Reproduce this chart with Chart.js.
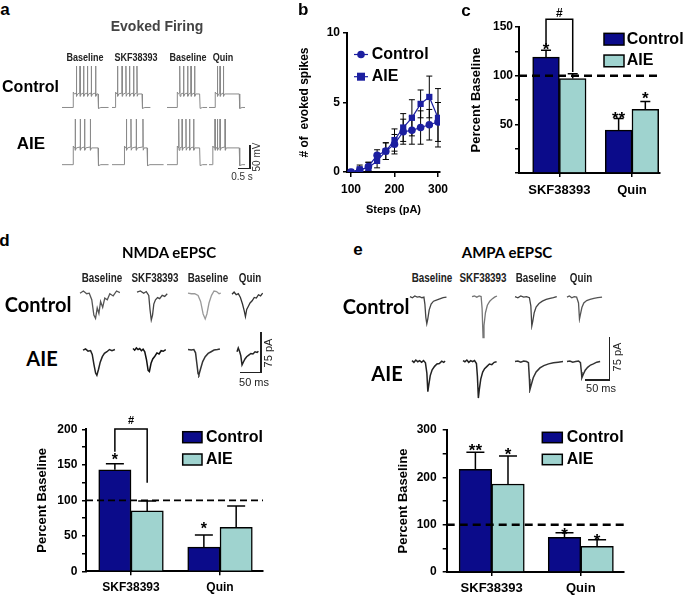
<!DOCTYPE html>
<html>
<head>
<meta charset="utf-8">
<script src="https://cdn.jsdelivr.net/npm/chart.js@4.4.1/dist/chart.umd.min.js"></script>
<style>
html, body { margin: 0; padding: 0; background: #fff; }
#page { position: relative; width: 685px; height: 596px; overflow: hidden; font-family: "Liberation Sans", Arial, sans-serif; }
#page canvas { position: absolute; }
.t { position: absolute; transform: translate(-50%, -50%); line-height: 1; white-space: nowrap; }
.nar { transform: translate(-50%, -50%) scaleX(.82); }
.rot { transform: translate(-50%, -50%) rotate(-90deg); }
.cal { font-family: Lato, "Open Sans", sans-serif; }
.sb { position: absolute; background: #222; }
</style>
</head>
<body>
<div id="page"></div>
<script>
// ── DATA ──────────────────────────────────────────────────────────────────────
// b: evoked spikes vs current step
const steps         = [100, 120, 140, 160, 180, 200, 220, 240, 260, 280, 300];
const stepTicks     = [100, 200, 300];
const ctrlSpikes    = [0, 0.1, 0.4, 1.2, 1.5, 2.0, 2.9, 3.0, 3.2, 3.4, 3.6];
const ctrlSpikesSem = [0, 0.2, 0.3, 0.4, 0.6, 0.7, 0.9, 1.0, 1.2, 1.1, 1.4];
const aieSpikes     = [0, 0.2, 0.3, 0.8, 1.5, 2.3, 3.2, 3.9, 4.9, 5.4, 3.9];
const aieSpikesSem  = [0, 0.3, 0.4, 0.5, 0.6, 0.8, 1.0, 1.3, 1.0, 1.5, 2.1];

// c, d, e: percent of baseline
const groups       = ['SKF38393', 'Quin'];
const firingCtrl   = [119, 44],  firingCtrlSem = [7, 12];
const firingAie    = [97, 65.5], firingAieSem  = [5, 8];
const nmdaCtrl     = [143, 34],  nmdaCtrlSem   = [8.5, 17];
const nmdaAie      = [85, 62],   nmdaAieSem    = [14, 30];
const ampaCtrl     = [217, 73],  ampaCtrlSem   = [36, 10];
const ampaAie      = [186, 54],  ampaAieSem    = [59, 14];

// a: firing sweeps, [step on, step off, sweep end] in s, spike times in s, levels in mV [rest, plateau, peak]
const traceCols    = ['Baseline', 'SKF38393', 'Baseline', 'Quin'];
const ctrlSweeps   = [[0.46, 1.5, 1.94], [0.14, 1.25, 1.6], [0.42, 1.36, 1.67], [0.25, 1.26, 1.5]];
const aieSweeps    = [[0.46, 1.5, 1.94], [0.51, 1.46, 2.15], [0.42, 1.36, 1.67], [0.15, 1.26, 1.5]];
const ctrlSpikeT   = [[0.6, 0.75, 0.9, 1.06, 1.22, 1.4], [0.23, 0.42, 0.58, 0.73, 0.9, 1.04], [0.53, 0.69, 0.86, 1.0, 1.15], [0.35, 0.46, 0.6]];
const aieSpikeT    = [[0.55, 0.76, 0.94, 1.18], [0.6, 0.79, 1.01, 1.29], [0.49, 0.63, 0.79, 0.94, 1.11], [0.25, 0.35, 0.46, 0.67]];
const ctrlLevels   = [-70, -41, 19];
const aieLevels    = [-70, -34, 28];

// d: NMDA eEPSC sweeps, [ms, pA]
const nmdaCtrlTraces = [
  [[0,0],[8,4],[16,-1],[22,0],[28,-12],[33,-40],[37,-46],[41,-27],[45,-37],[49,-15],[54,-26],[59,-9],[65,-12],[71,-1],[79,-5],[87,4],[95,1]],
  [[0,2],[8,4],[16,0],[22,3],[28,-4],[31,-30],[34,-49],[37,-40],[40,-20],[44,-12],[49,-8],[54,-10],[60,-4],[66,-6],[72,-1]],
  [[0,0],[8,-1],[16,-1],[24,-4],[30,-15],[36,-38],[41,-47],[45,-38],[50,-18],[56,-4],[62,4],[68,3],[74,-1],[78,0]],
  [[0,-2],[5,2],[10,-3],[15,-1],[20,-8],[25,-20],[29,-32],[32,-43],[35,-30],[39,-24],[43,-18],[48,-14],[53,-8],[58,-9],[63,-3],[68,-5],[73,0]]
];
const nmdaAieTraces = [
  [[0,0],[6,2],[12,-2],[18,-1],[22,-8],[26,-26],[30,-42],[33,-46],[37,-35],[41,-22],[46,-12],[51,-6],[57,-3],[63,1],[69,-1],[76,1]],
  [[0,2],[4,-1],[8,3],[12,0],[16,2],[20,-2],[24,1],[28,-4],[32,-18],[36,-38],[39,-40],[43,-25],[47,-17],[52,-12],[57,-6],[62,-8],[67,-2],[72,-3],[78,0]],
  [[0,0],[8,-1],[14,0],[18,-6],[21,-25],[24,-44],[26,-46],[30,-35],[35,-22],[41,-13],[48,-7],[55,-4],[62,-1],[70,0],[76,1]],
  [[0,-3],[3,4],[6,-2],[9,-10],[12,-27],[15,-22],[19,-16],[23,-12],[28,-9],[33,-6],[38,-7],[43,-3],[48,-4],[51,-2]]
];

// e: AMPA eEPSC sweeps, [ms, pA]
const ampaCtrlTraces = [
  [[0,1],[5,-1],[10,2],[15,0],[20,1],[25,-1],[29,0],[31,-12],[33,-35],[35,-46],[37,-38],[40,-22],[44,-12],[49,-7],[55,-5],[62,-3],[69,-1],[76,0]],
  [[0,0],[5,1],[10,-1],[15,1],[19,0],[21,-20],[23,-71],[25,-50],[28,-28],[32,-15],[37,-8],[42,-4],[47,-1],[52,1]],
  [[0,1],[6,-1],[12,2],[18,0],[24,1],[30,-1],[33,-15],[35,-50],[37,-42],[40,-27],[44,-17],[50,-11],[57,-7],[65,-4],[73,-2],[80,-1],[87,1]],
  [[0,0],[5,2],[10,-1],[15,1],[20,0],[24,-10],[26,-38],[28,-30],[31,-18],[35,-10],[41,-6],[48,-4],[56,-2],[64,-1],[73,0]]
];
const ampaAieTraces = [
  [[0,2],[4,-1],[8,3],[12,0],[16,2],[20,-1],[24,2],[28,-2],[31,-20],[33,-52],[35,-40],[38,-24],[42,-14],[47,-8],[52,-4],[57,-3],[62,1],[66,-1],[69,1]],
  [[0,2],[4,0],[8,3],[12,-1],[16,2],[20,0],[24,2],[28,-3],[30,-25],[32,-63],[34,-48],[37,-30],[41,-18],[45,-12],[50,-8],[55,-4],[60,-5],[65,-1],[70,0]],
  [[0,0],[6,1],[12,-1],[18,1],[24,0],[28,-2],[30,-30],[31,-49],[34,-40],[38,-28],[44,-18],[52,-11],[60,-7],[70,-4],[80,-2],[90,-1],[100,0]],
  [[0,0],[6,1],[12,-1],[18,0],[24,1],[28,-2],[30,-18],[31,-28],[34,-22],[38,-15],[43,-10],[49,-6],[55,-4],[62,-1],[69,0]]
];

// ── STYLE / LAYOUT ────────────────────────────────────────────────────────────
const NAVY = '#0b0b8a', TEAL = '#9fd3cf', BLUE = '#1c1fa0';
Chart.defaults.font.family = '"Liberation Sans", Arial, sans-serif';
Chart.defaults.color = '#000';
const page = document.getElementById('page');

function makeCanvas(left, top, w, h) {
  const cv = document.createElement('canvas');
  cv.width = Math.round(w); cv.height = Math.round(h);
  cv.style.left = left + 'px'; cv.style.top = top + 'px';
  cv.style.width = Math.round(w) + 'px'; cv.style.height = Math.round(h) + 'px';
  page.appendChild(cv);
  return cv;
}

function txt(s, x, y, size, cls = '', weight = 'bold', color = '#000') {
  const d = document.createElement('div');
  d.className = 't ' + cls;
  d.textContent = s;
  d.style.cssText = `left:${x}px;top:${y}px;font-size:${size}px;font-weight:${weight};color:${color}`;
  page.appendChild(d);
}

function scaleBar(x, y1, y2, x1) {
  const v = document.createElement('div');
  v.className = 'sb';
  v.style.cssText = `left:${x - 0.75}px;top:${y1}px;width:1.5px;height:${y2 - y1}px`;
  const h = document.createElement('div');
  h.className = 'sb';
  h.style.cssText = `left:${x1}px;top:${y2 - 0.75}px;width:${x - x1 + 0.75}px;height:1.5px`;
  page.append(v, h);
}

// ── PLUGINS ───────────────────────────────────────────────────────────────────
const barExtras = {
  id: 'barExtras',
  afterDatasetsDraw(chart, args, o) {
    const { ctx, chartArea: ca, scales: { y } } = chart;
    const bar = (di, i) => chart.getDatasetMeta(di).data[i];
    const capY = (di, i) => { const ds = chart.data.datasets[di]; return y.getPixelForValue(ds.data[i].y + ds.sem[i]); };
    ctx.save();
    ctx.strokeStyle = '#000'; ctx.fillStyle = '#000';
    // SEM (upper only)
    ctx.lineWidth = 1.5;
    chart.data.datasets.forEach((ds, di) => ds.data.forEach((p, i) => {
      const b = bar(di, i), yt = capY(di, i);
      ctx.beginPath();
      ctx.moveTo(b.x, b.y); ctx.lineTo(b.x, yt);
      ctx.moveTo(b.x - o.cap / 2, yt); ctx.lineTo(b.x + o.cap / 2, yt);
      ctx.stroke();
    }));
    // 100 % line
    const yr = y.getPixelForValue(100);
    ctx.lineWidth = o.refWidth; ctx.setLineDash(o.refDash);
    ctx.beginPath(); ctx.moveTo(ca.left, yr); ctx.lineTo(ca.right, yr); ctx.stroke();
    ctx.setLineDash([]);
    // significance marks
    ctx.font = `bold ${o.starSize}px "Liberation Sans", Arial`;
    ctx.textAlign = 'center'; ctx.textBaseline = 'alphabetic';
    o.stars.forEach(s => ctx.fillText(s.text, bar(s.ds, s.i).x, capY(s.ds, s.i) + s.dy));
    const bk = o.bracket;
    if (bk) {
      const x1 = bar(0, bk.i).x, x2 = bar(1, bk.i).x, yt = y.getPixelForValue(bk.top);
      ctx.lineWidth = 1.5;
      ctx.beginPath();
      ctx.moveTo(x1, y.getPixelForValue(bk.left)); ctx.lineTo(x1, yt);
      ctx.lineTo(x2, yt); ctx.lineTo(x2, y.getPixelForValue(bk.right));
      ctx.stroke();
      ctx.font = `bold ${bk.size}px "Liberation Sans", Arial`;
      ctx.textBaseline = 'middle';
      ctx.fillText(bk.text, (x1 + x2) / 2, yt - bk.gap);
    }
    ctx.restore();
  }
};

const lineErrors = {
  id: 'lineErrors',
  beforeDatasetsDraw(chart, args, o) {
    const { ctx, scales: { y } } = chart;
    ctx.save();
    ctx.strokeStyle = '#000'; ctx.lineWidth = 1;
    chart.data.datasets.forEach((ds, di) => chart.getDatasetMeta(di).data.forEach((pt, i) => {
      const e = ds.sem[i];
      if (!e) return;
      const v = ds.data[i].y, y1 = y.getPixelForValue(v + e), y2 = Math.min(y.getPixelForValue(v - e), y.bottom);
      ctx.beginPath();
      ctx.moveTo(pt.x, y1); ctx.lineTo(pt.x, y2);
      ctx.moveTo(pt.x - o.cap / 2, y1); ctx.lineTo(pt.x + o.cap / 2, y1);
      if (v - e > 0) { ctx.moveTo(pt.x - o.cap / 2, y2); ctx.lineTo(pt.x + o.cap / 2, y2); }
      ctx.stroke();
    }));
    ctx.restore();
  }
};

const keyLegend = {
  id: 'keyLegend',
  afterDraw(chart, args, o) {
    if (!o || o.x == null) return;
    const ctx = chart.ctx;
    ctx.save();
    ctx.font = `bold ${o.size}px "Liberation Sans", Arial`;
    ctx.textAlign = 'left'; ctx.textBaseline = 'middle';
    chart.data.datasets.forEach((ds, i) => {
      const yc = o.y + i * o.dy;
      if (o.kind === 'marker') {
        ctx.strokeStyle = ds.borderColor; ctx.fillStyle = ds.backgroundColor; ctx.lineWidth = 1.2;
        ctx.beginPath(); ctx.moveTo(o.x - o.w / 2, yc); ctx.lineTo(o.x + o.w / 2, yc); ctx.stroke();
        if (ds.pointStyle === 'rect') ctx.fillRect(o.x - 4, yc - 4, 8, 8);
        else { ctx.beginPath(); ctx.arc(o.x, yc, 3.8, 0, Math.PI * 2); ctx.fill(); }
      } else {
        ctx.fillStyle = ds.backgroundColor;
        ctx.fillRect(o.x, yc - o.h / 2, o.w, o.h);
        ctx.strokeStyle = '#000'; ctx.lineWidth = 1.5;
        ctx.strokeRect(o.x, yc - o.h / 2, o.w, o.h);
      }
      ctx.fillStyle = '#000';
      ctx.fillText(ds.label, o.textX, yc);
    });
    ctx.restore();
  }
};

// ── TRACES ────────────────────────────────────────────────────────────────────
function firingPts(sweep, spikes, lv) {
  const [on, off, end] = sweep, [rest, plat, peak] = lv;
  const p = [[0, rest], [on, rest], [on + 0.01, plat + 4], [on + 0.06, plat]];
  spikes.forEach(t => p.push([t - 0.006, plat + 2], [t, peak], [t + 0.012, plat - 5], [t + 0.05, plat]));
  p.push([off, plat], [off + 0.02, rest - 2], [off + 0.12, rest], [end, rest]);
  return p;
}

function trace(x0, yBase, pts, sx, sy, color, lw, base = 0) {
  const m = 3;
  const tMax = Math.max(...pts.map(p => p[0]));
  const vMax = Math.max(...pts.map(p => p[1])), vMin = Math.min(...pts.map(p => p[1]));
  const w = Math.ceil(tMax * sx + 2 * m), h = Math.ceil((vMax - vMin) * sy + 2 * m);
  const cv = makeCanvas(x0 - m, yBase - (vMax - base) * sy - m, w, h);
  const xMin = -m / sx, yMax = vMax + m / sy;
  new Chart(cv, {
    type: 'line',
    data: { datasets: [{ data: pts.map(([x, y]) => ({ x, y })), borderColor: color, borderWidth: lw, pointRadius: 0, tension: 0 }] },
    options: {
      responsive: false, animation: false, events: [],
      layout: { padding: 0 },
      plugins: { legend: { display: false }, tooltip: { enabled: false } },
      scales: {
        x: { type: 'linear', display: false, min: xMin, max: xMin + w / sx },
        y: { display: false, min: yMax - h / sy, max: yMax }
      }
    }
  });
}

// a: evoked firing
const firingX0 = [61.7, 111.7, 166.7, 209];
ctrlSweeps.forEach((s, i) => trace(firingX0[i], 107.7, firingPts(s, ctrlSpikeT[i], ctrlLevels), 24, 0.466, '#8a8a8a', 1, ctrlLevels[0]));
aieSweeps.forEach((s, i) => trace(firingX0[i], 165, firingPts(s, aieSpikeT[i], aieLevels), 24, 0.466, '#8a8a8a', 1, aieLevels[0]));

// d: NMDA
const nmdaX0 = [[80, 136.7, 188, 231.7], [83, 132.7, 188, 236.7]];
const nmdaCol = [['#555', '#444', '#999', '#333'], ['#222', '#111', '#333', '#222']];
nmdaCtrlTraces.forEach((p, i) => trace(nmdaX0[0][i], 293.3, p, 0.42, 0.547, nmdaCol[0][i], 1.3));
nmdaAieTraces.forEach((p, i) => trace(nmdaX0[1][i], 350, p, 0.42, 0.547, nmdaCol[1][i], 1.5));

// e: AMPA
const ampaX0 = [[410, 471.7, 515, 566.7], [411.7, 463, 515, 566.7]];
const ampaCol = [['#444', '#777', '#444', '#555'], ['#222', '#222', '#333', '#333']];
ampaCtrlTraces.forEach((p, i) => trace(ampaX0[0][i], 296.7, p, 0.48, 0.577, ampaCol[0][i], 1.3));
ampaAieTraces.forEach((p, i) => trace(ampaX0[1][i], 361.7, p, 0.48, 0.577, ampaCol[1][i], 1.5));

// ── b: LINE CHART ─────────────────────────────────────────────────────────────
const axisGrid = { drawOnChartArea: false, drawTicks: true, tickLength: 4, color: '#000', lineWidth: 1.5, offset: false };
const axisBorder = { display: true, color: '#000', width: 2 };

new Chart(makeCanvas(290, 0, 165, 222), {
  type: 'line',
  data: { datasets: [
    { label: 'Control', data: steps.map((s, i) => ({ x: s, y: ctrlSpikes[i] })), sem: ctrlSpikesSem,
      borderColor: BLUE, backgroundColor: BLUE, borderWidth: 1.2, pointStyle: 'circle', pointRadius: 3.8, pointBorderWidth: 0 },
    { label: 'AIE', data: steps.map((s, i) => ({ x: s, y: aieSpikes[i] })), sem: aieSpikesSem,
      borderColor: BLUE, backgroundColor: BLUE, borderWidth: 1.2, pointStyle: 'rect', pointRadius: 4.4, pointBorderWidth: 0 }
  ] },
  options: {
    responsive: false, animation: false, events: [],
    layout: { padding: { top: 33, right: 15, left: 0, bottom: 0 } },
    plugins: {
      legend: { display: false }, tooltip: { enabled: false },
      lineErrors: { cap: 6 },
      keyLegend: { kind: 'marker', x: 71, y: 54.5, dy: 22.2, w: 14, textX: 81.7, size: 16 }
    },
    scales: {
      x: { type: 'linear', min: 90.8, max: 304.6,
           afterBuildTicks: s => { s.ticks = stepTicks.map(v => ({ value: v })); },
           afterFit: s => { s.height = 50; },
           ticks: { font: { size: 12, weight: 'bold' }, padding: 5.8, maxRotation: 0, autoSkip: false },
           grid: { ...axisGrid, tickLength: 5 }, border: axisBorder,
           title: { display: true, text: 'Steps (pA)', font: { size: 11, weight: 'bold' }, padding: { top: 0, bottom: 5.4 } } },
      y: { min: 0, max: 10,
           afterFit: s => { s.width = 57; },
           ticks: { stepSize: 5, font: { size: 12, weight: 'bold' }, padding: 3 },
           grid: axisGrid, border: axisBorder,
           title: { display: true, text: '# of  evoked spikes', font: { size: 12, weight: 'bold' }, padding: { top: 7.8, bottom: 0 } } }
    }
  },
  plugins: [lineErrors, keyLegend]
});

// ── c, d, e: BAR CHARTS ───────────────────────────────────────────────────────
function barChart(o, ctrl, ctrlSem, aie, aieSem) {
  const [l, t, w, h] = o.box;
  return new Chart(makeCanvas(l, t, w, h), {
    type: 'bar',
    data: { datasets: [
      { label: 'Control', data: ctrl.map((v, i) => ({ x: i, y: v })), sem: ctrlSem,
        backgroundColor: NAVY, borderColor: '#000', borderWidth: 1.5, barThickness: o.bar },
      { label: 'AIE', data: aie.map((v, i) => ({ x: i, y: v })), sem: aieSem,
        backgroundColor: TEAL, borderColor: '#000', borderWidth: 1.5, barThickness: o.bar }
    ] },
    options: {
      responsive: false, animation: false, events: [],
      layout: { padding: o.pad },
      plugins: { legend: { display: false }, tooltip: { enabled: false }, barExtras: o.extras, keyLegend: o.legend },
      scales: {
        x: { type: 'linear', min: o.xMin, max: o.xMax, offset: false,
             afterBuildTicks: s => { s.ticks = groups.map((g, i) => ({ value: i })); },
             afterFit: s => { s.height = o.xH; },
             ticks: { callback: v => groups[v], font: { size: o.catSize, weight: 'bold' }, padding: o.xPad, maxRotation: 0, autoSkip: false },
             grid: axisGrid, border: axisBorder },
        y: { min: 0, max: o.yMax,
             afterFit: s => { s.width = o.yW; },
             ticks: { stepSize: o.minor, autoSkip: false, font: { size: 12, weight: 'bold' }, padding: o.yPad,
                      callback: v => (v % o.major === 0 && (v > 0 || o.zero)) ? v : '' },
             grid: axisGrid, border: axisBorder,
             title: { display: true, text: 'Percent Baseline', font: { size: 13, weight: 'bold' }, padding: { top: o.titlePad, bottom: 0 } } }
      }
    },
    plugins: [barExtras, keyLegend]
  });
}

barChart({
  box: [460, 0, 225, 200], pad: { top: 27, right: 25, left: 0, bottom: 0 },
  xMin: -0.556, xMax: 1.386, xH: 27, yW: 59, yMax: 150, minor: 25, major: 50, zero: false,
  bar: 26.7, xPad: 5.2, yPad: 2, catSize: 13, titlePad: 8.2,
  extras: { cap: 10, refWidth: 2.5, refDash: [8, 5], starSize: 17,
            stars: [{ ds: 0, i: 0, text: '*', dy: 5 }, { ds: 0, i: 1, text: '**', dy: 5.5 }, { ds: 1, i: 1, text: '*', dy: 3 }],
            bracket: { i: 0, top: 158, left: 129.5, right: 103.8, text: '#', size: 12, gap: 5.7 } },
  legend: { kind: 'box', x: 144, y: 39.2, dy: 21.7, w: 20, h: 11.7, textX: 166.7, size: 16 }
}, firingCtrl, firingCtrlSem, firingAie, firingAieSem);

barChart({
  box: [0, 415, 280, 181], pad: { top: 14.3, right: 17, left: 0, bottom: 0 },
  xMin: -0.506, xMax: 1.483, xH: 24.7, yW: 86, yMax: 200, minor: 25, major: 50, zero: true,
  bar: 32.3, xPad: 5.5, yPad: 4.7, catSize: 12, titlePad: 34.9,
  extras: { cap: 18, refWidth: 1.8, refDash: [7, 4], starSize: 16,
            stars: [{ ds: 0, i: 0, text: '*', dy: 1 }, { ds: 0, i: 1, text: '*', dy: -1 }],
            bracket: { i: 0, top: 200.4, left: 168.5, right: 124.8, text: '#', size: 11, gap: 8 } },
  legend: { kind: 'box', x: 182.7, y: 22.2, dy: 22.3, w: 19.3, h: 11, textX: 206, size: 16 }
}, nmdaCtrl, nmdaCtrlSem, nmdaAie, nmdaAieSem);

barChart({
  box: [380, 415, 305, 181], pad: { top: 15, right: 61, left: 0, bottom: 0 },
  xMin: -0.505, xMax: 1.485, xH: 24, yW: 66.7, yMax: 300, minor: 50, major: 100, zero: true,
  bar: 32.6, xPad: 4.2, yPad: 6, catSize: 13, titlePad: 15.5,
  extras: { cap: 18, refWidth: 2.5, refDash: [8, 5], starSize: 17,
            stars: [{ ds: 0, i: 0, text: '**', dy: 4 }, { ds: 1, i: 0, text: '*', dy: 4 }, { ds: 0, i: 1, text: '*', dy: 7 }, { ds: 1, i: 1, text: '*', dy: 6 }] },
  legend: { kind: 'box', x: 162.3, y: 22.5, dy: 22, w: 20, h: 10.4, textX: 186.7, size: 16 }
}, ampaCtrl, ampaCtrlSem, ampaAie, ampaAieSem);

// ── TEXT ──────────────────────────────────────────────────────────────────────
txt('a', 5, 8.5, 17);
txt('b', 303.3, 8.5, 17);
txt('c', 466, 9.5, 17);
txt('d', 4.5, 240, 17);
txt('e', 358, 249, 17);

txt('Evoked Firing', 157, 25.5, 14, '', 'bold', '#444');
[84.7, 135.8, 187.5, 222.8].forEach((x, i) => txt(traceCols[i], x, 57, 11, 'nar', 'bold', '#222'));
txt('Control', 30.5, 86.7, 16);
txt('AIE', 30.8, 142.5, 17);
txt('50 mV', 257, 157, 10, 'rot', 'normal', '#333');
txt('0.5 s', 242, 177, 10, '', 'normal', '#333');
scaleBar(250, 145, 168.3, 238);

txt('NMDA eEPSC', 169, 251.5, 15, 'cal');
[101.7, 155, 208, 250].forEach((x, i) => txt(traceCols[i], x, 278, 12, 'nar', 'bold', '#222'));
txt('Control', 38, 304, 20, 'cal');
txt('AIE', 42, 357.5, 20, 'cal');
txt('75 pA', 268.3, 353, 11, 'rot', 'normal', '#222');
txt('50 ms', 254, 381.5, 11, '', 'normal', '#222');
scaleBar(261, 331.7, 372.7, 240);

txt('AMPA eEPSC', 507, 251.7, 15, 'cal');
[431.7, 483, 536, 580.7].forEach((x, i) => txt(traceCols[i], x, 278, 12, 'nar', 'bold', '#222'));
txt('Control', 376, 306, 20, 'cal');
txt('AIE', 387, 372.5, 20, 'cal');
txt('75 pA', 616.7, 356.7, 11, 'rot', 'normal', '#222');
txt('50 ms', 601, 387.5, 11, '', 'normal', '#222');
scaleBar(609.3, 336.7, 380, 585);
</script>
</body>
</html>
